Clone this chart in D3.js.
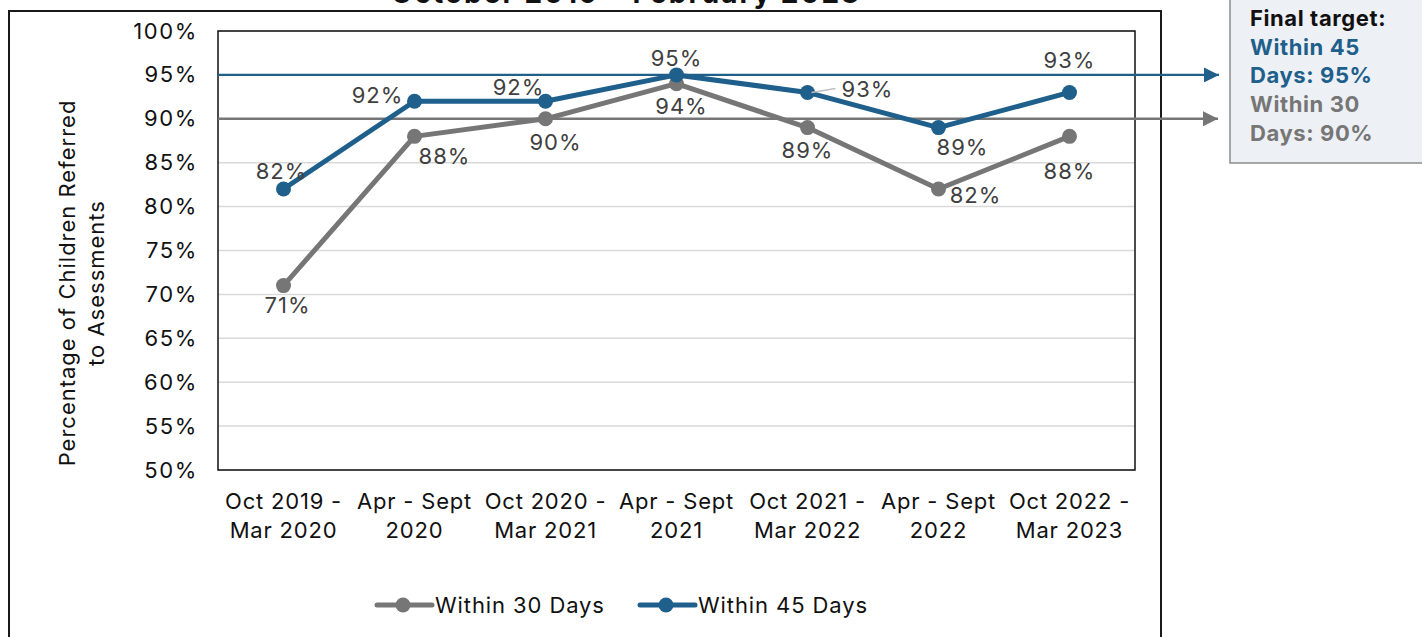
<!DOCTYPE html>
<html>
<head>
<meta charset="utf-8">
<script src="https://cdn.jsdelivr.net/npm/d3@7"></script>
<style>
  html, body { margin: 0; padding: 0; background: #fff; }
  svg { display: block; font-family: "Inter", "Open Sans", sans-serif; }
</style>
</head>
<body>
<svg id="chart" width="1422" height="637"></svg>
<script>
// Reporting periods (two-line tick labels)
const periods = [
  ["Oct 2019 -", "Mar 2020"],
  ["Apr - Sept", "2020"],
  ["Oct 2020 -", "Mar 2021"],
  ["Apr - Sept", "2021"],
  ["Oct 2021 -", "Mar 2022"],
  ["Apr - Sept", "2022"],
  ["Oct 2022 -", "Mar 2023"]
];

// Share of children referred to assessments (%)
const within30 = [71, 88, 90, 94, 89, 82, 88];
const within45 = [82, 92, 92, 95, 93, 89, 93];

// Final targets
const target45 = 95;
const target30 = 90;

// Y axis ticks
const yTicks = [50, 55, 60, 65, 70, 75, 80, 85, 90, 95, 100];

// Data-label placement relative to each point (dx, dy of label centre)
const labelPos30 = [[4, 20], [30, 20], [10, 23], [5, 23], [0, 23], [37, 6], [0, 35]];
const labelPos45 = [[-2, -18], [-37, -6], [-27, -14], [0, -17], [60, -3], [24, 20], [0, -32]];

const colors = { d30: "#767676", d45: "#1f5f8b", label: "#404040" };
const FONT = "Inter, 'Open Sans', sans-serif";

const svg = d3.select("#chart");

const plot = { left: 218, right: 1135, top: 31, bottom: 470 };

const x = d3.scaleBand()
  .domain(d3.range(periods.length))
  .range([plot.left, plot.right]);
const xc = i => x(i) + x.bandwidth() / 2;

const y = d3.scaleLinear().domain([50, 100]).range([plot.bottom, plot.top]);

// Outer chart frame
svg.append("path")
  .attr("d", `M9,640 V11 H1161 V640`)
  .attr("fill", "none").attr("stroke", "#1a1a1a").attr("stroke-width", 2);

// Title (runs off the top edge)
svg.append("text")
  .attr("x", 626).attr("y", 3)
  .attr("text-anchor", "middle")
  .attr("font-size", 28).attr("font-weight", 700)
  .attr("letter-spacing", 2)
  .attr("fill", "#111")
  .text("October 2019 \u2013 February 2023");

// Gridlines
svg.append("g")
  .selectAll("line")
  .data(yTicks)
  .join("line")
  .attr("x1", plot.left).attr("x2", plot.right)
  .attr("y1", d => y(d)).attr("y2", d => y(d))
  .attr("stroke", "#d9d9d9").attr("stroke-width", 1.5);

// Y axis
const yAxis = d3.axisLeft(y)
  .tickValues(yTicks)
  .tickSize(0)
  .tickPadding(20)
  .tickFormat(d => d + "%");
const gy = svg.append("g")
  .attr("transform", `translate(${plot.left},0)`)
  .call(yAxis);
gy.select(".domain").remove();
gy.selectAll("text")
  .attr("font-size", 22).attr("fill", "#111")
  .attr("letter-spacing", 1.6)
  .attr("font-family", FONT);

// X axis with two-line labels
const xAxis = d3.axisBottom(x).tickSize(0).tickFormat(() => "");
const gx = svg.append("g")
  .attr("transform", `translate(0,${plot.bottom})`)
  .call(xAxis);
gx.select(".domain").remove();
gx.selectAll(".tick").each(function (i) {
  const t = d3.select(this).append("text")
    .attr("text-anchor", "middle")
    .attr("font-size", 22).attr("fill", "#111")
    .attr("letter-spacing", 0.8)
    .attr("font-family", FONT);
  periods[i].forEach((line, k) => {
    t.append("tspan").attr("x", 0).attr("y", 39 + k * 29).text(line);
  });
});

// Plot area border
svg.append("rect")
  .attr("x", plot.left).attr("y", plot.top)
  .attr("width", plot.right - plot.left).attr("height", plot.bottom - plot.top)
  .attr("fill", "none").attr("stroke", "#111").attr("stroke-width", 1.5);

// Y axis title
svg.append("text")
  .attr("transform", `translate(75,283) rotate(-90)`)
  .attr("text-anchor", "middle")
  .attr("font-size", 22).attr("fill", "#111")
  .attr("letter-spacing", 1)
  .call(t => {
    t.append("tspan").attr("x", 0).attr("dy", 0).text("Percentage of Children Referred");
    t.append("tspan").attr("x", 0).attr("dy", 29).text("to Asessments");
  });

// Arrow markers for target lines
const defs = svg.append("defs");
[["arrow45", colors.d45], ["arrow30", colors.d30]].forEach(([id, c]) => {
  defs.append("marker")
    .attr("id", id)
    .attr("viewBox", "0 0 10 10")
    .attr("refX", 10).attr("refY", 5)
    .attr("markerUnits", "userSpaceOnUse")
    .attr("markerWidth", 16).attr("markerHeight", 15)
    .attr("orient", "auto")
    .append("path").attr("d", "M0,0 L10,5 L0,10 Z").attr("fill", c);
});

// Target lines
svg.append("line")
  .attr("x1", plot.left).attr("x2", 1218)
  .attr("y1", y(target30)).attr("y2", y(target30))
  .attr("stroke", colors.d30).attr("stroke-width", 2.5)
  .attr("marker-end", "url(#arrow30)");
svg.append("line")
  .attr("x1", plot.left).attr("x2", 1219)
  .attr("y1", y(target45)).attr("y2", y(target45))
  .attr("stroke", colors.d45).attr("stroke-width", 2.2)
  .attr("marker-end", "url(#arrow45)");

// Series lines and markers
const line = d3.line().x((d, i) => xc(i)).y(d => y(d));
[[within30, colors.d30], [within45, colors.d45]].forEach(([vals, c]) => {
  svg.append("path")
    .datum(vals)
    .attr("d", line)
    .attr("fill", "none").attr("stroke", c)
    .attr("stroke-width", 5).attr("stroke-linejoin", "round");
  svg.append("g")
    .selectAll("circle")
    .data(vals)
    .join("circle")
    .attr("cx", (d, i) => xc(i)).attr("cy", d => y(d))
    .attr("r", 7.5).attr("fill", c);
});

// Leader line for the Oct 2021 - Mar 2022 45-day label
svg.append("line")
  .attr("x1", xc(4) + 4).attr("y1", y(within45[4]))
  .attr("x2", xc(4) + 28).attr("y2", y(within45[4]) - 4)
  .attr("stroke", "#bfbfbf").attr("stroke-width", 1.5);

// Data labels
function drawLabels(vals, pos) {
  svg.append("g")
    .selectAll("text")
    .data(vals)
    .join("text")
    .attr("x", (d, i) => xc(i) + pos[i][0])
    .attr("y", (d, i) => y(d) + pos[i][1])
    .attr("dy", "0.35em")
    .attr("text-anchor", "middle")
    .attr("font-size", 22).attr("fill", colors.label)
    .attr("letter-spacing", 1)
    .text(d => d + "%");
}
drawLabels(within30, labelPos30);
drawLabels(within45, labelPos45);

// Legend
const legend = svg.append("g").attr("transform", "translate(0,605)");
[["Within 30 Days", colors.d30, 377], ["Within 45 Days", colors.d45, 640]].forEach(([name, c, lx]) => {
  legend.append("line")
    .attr("x1", lx).attr("x2", lx + 55)
    .attr("stroke", c).attr("stroke-width", 5).attr("stroke-linecap", "round");
  legend.append("circle").attr("cx", lx + 26).attr("cy", 0).attr("r", 7.5).attr("fill", c);
  legend.append("text")
    .attr("x", lx + 58).attr("dy", "0.35em")
    .attr("font-size", 22).attr("fill", "#111")
    .attr("letter-spacing", 0.9)
    .text(name);
});

// Final target note
svg.append("rect")
  .attr("x", 1230).attr("y", -5)
  .attr("width", 200).attr("height", 168)
  .attr("fill", "#edf0f5").attr("stroke", "#8c8c8c").attr("stroke-width", 1.5);
const note = svg.append("text")
  .attr("font-size", 22).attr("font-weight", 700)
  .attr("letter-spacing", 0.6);
[["Final target:", "#111"], ["Within 45", colors.d45], ["Days: 95%", colors.d45],
 ["Within 30", colors.d30], ["Days: 90%", colors.d30]].forEach(([txt, c], k) => {
  note.append("tspan")
    .attr("x", 1250).attr("y", 26 + k * 28.7)
    .attr("fill", c)
    .text(txt);
});
</script>
</body>
</html>
